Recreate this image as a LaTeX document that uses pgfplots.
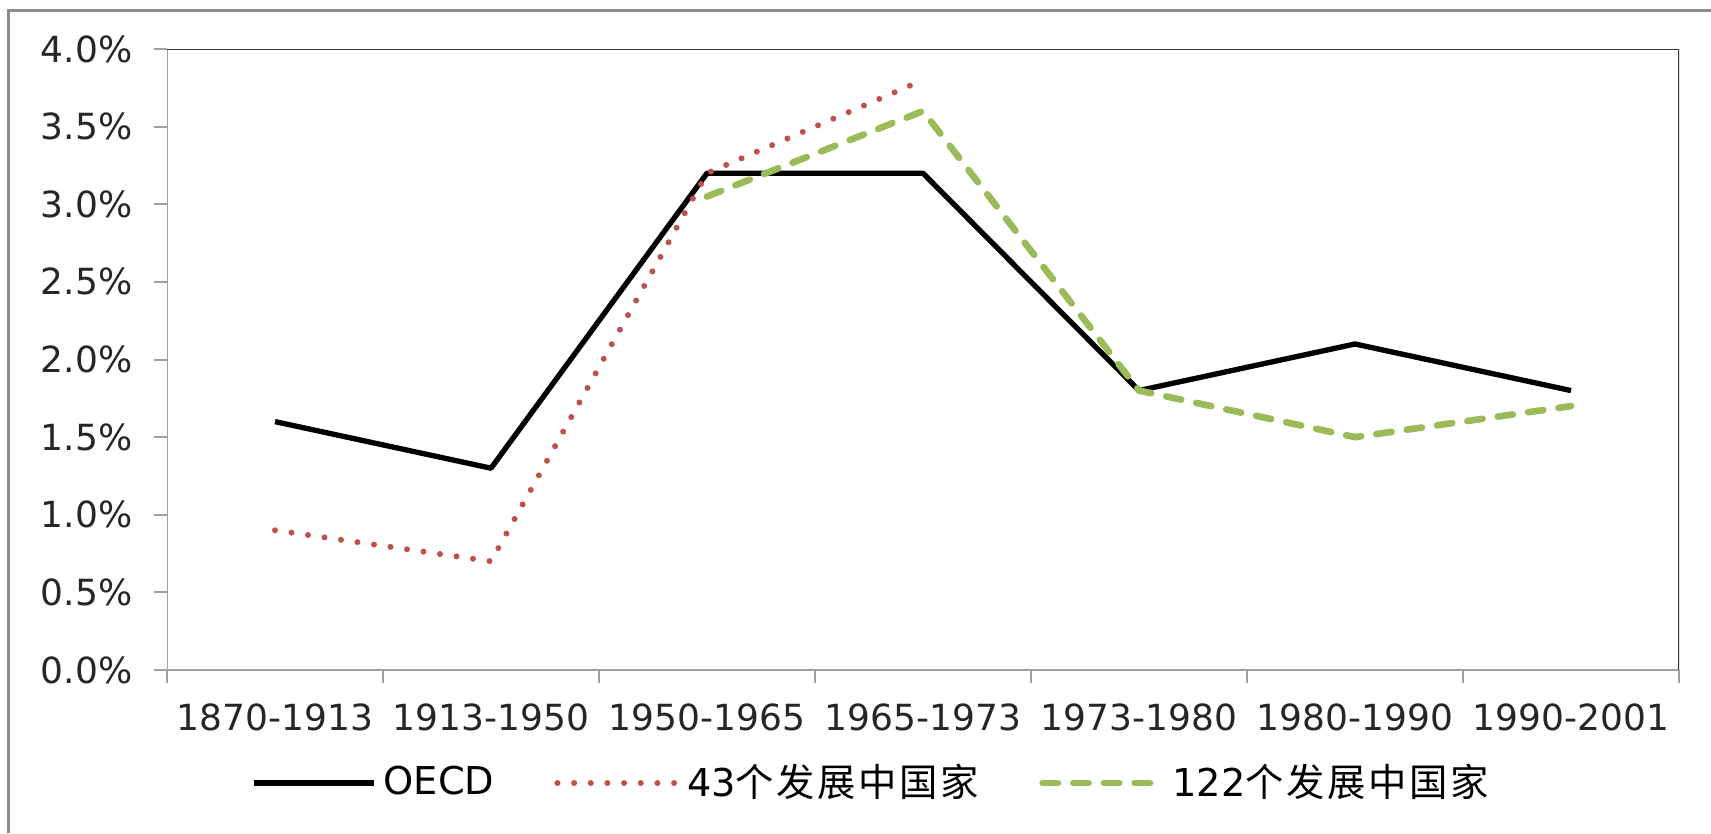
\documentclass[border=0pt]{standalone}
\usepackage{pgfplots}
\pgfplotsset{compat=1.18}
\usepackage{fontspec}
\setmainfont{DejaVu Sans}
\newfontfamily\cjk[LetterSpace=7]{Noto Sans CJK SC}
\definecolor{oecdred}{RGB}{192,80,77}
\definecolor{oecdgreen}{RGB}{155,187,89}
\definecolor{axgray}{RGB}{160,160,160}
\definecolor{framegray}{RGB}{140,140,140}
\begin{document}
\begin{tikzpicture}
\useasboundingbox (0pt,0pt) rectangle (513.3pt,249.9pt);
\fill[white] (0pt,0pt) rectangle (513.3pt,249.9pt);
\draw[framegray, line width=0.9pt] (2.4pt,0pt) -- (2.4pt,246.9pt) -- (513.3pt,246.9pt);
\begin{axis}[
  at={(50.1pt,48.9pt)}, anchor=south west,
  scale only axis, width=453.6pt, height=186.3pt,
  xmin=-0.5, xmax=6.5, ymin=0, ymax=4,
  axis line style={draw=none},
  tick pos=left, tick align=outside, major tick length=4pt,
  tick style={axgray, line width=0.6pt},
  xtick={-0.5,0.5,1.5,2.5,3.5,4.5,5.5,6.5},
  xticklabels={1870-1913,1913-1950,1950-1965,1965-1973,1973-1980,1980-1990,1990-2001,{}},
  xticklabel style={xshift=32.4pt, yshift=-6pt, anchor=north, inner sep=0pt},
  ytick={0,0.5,1,1.5,2,2.5,3,3.5,4},
  yticklabels={0.0\%,0.5\%,1.0\%,1.5\%,2.0\%,2.5\%,3.0\%,3.5\%,4.0\%},
  yticklabel style={anchor=east, inner sep=0pt, xshift=-6.2pt},
  tick label style={font=\fontsize{10.8}{13}\selectfont, text=black!85},
  legend columns=3,
  legend style={draw=none, fill=none, at={(axis description cs:0.0556,-0.182)}, anchor=west,
    inner sep=0pt, font=\fontsize{11.5}{14}\selectfont,
    /tikz/every even column/.append style={column sep=16pt}},
  legend cell align=left,
  legend image code/.code={\draw[#1] (0pt,0pt) -- (36pt,0pt);},
]
\addplot[black, line width=1.6pt, line join=round] coordinates {(0,1.6)(1,1.3)(2,3.2)(3,3.2)(4,1.8)(5,2.1)(6,1.8)};
\addlegendentry{OECD}
\addplot[oecdred, line width=1.8pt, line cap=round, dash pattern=on 0pt off 5pt] coordinates {(0,0.9)(1,0.7)(2,3.2)(3,3.8)};
\addlegendentry{43{\cjk 个发展中国家}}
\addplot[oecdgreen, line width=2pt, line cap=round, dash pattern=on 4.6pt off 4.6pt] coordinates {(2,3.05)(3,3.6)(4,1.8)(5,1.5)(6,1.7)};
\addlegendentry{122{\cjk 个发展中国家}}
\draw[axgray, line width=0.75pt] (rel axis cs:0,1) -- (rel axis cs:0,0) -- (rel axis cs:1,0);
\draw[black!80, line width=0.6pt] (rel axis cs:0,1) -- (rel axis cs:1,1) -- (rel axis cs:1,0);
\end{axis}
\end{tikzpicture}
\end{document}
